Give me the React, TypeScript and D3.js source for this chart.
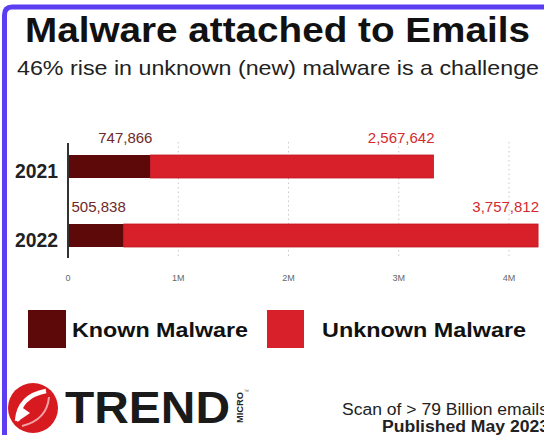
import * as d3 from 'd3'

const years = ['2021', '2022']
const knownValues = [747866, 505838]
const unknownValues = [2567642, 3757812]
const xTicks = [0, 1000000, 2000000, 3000000, 4000000]
const seriesNames = ['Known Malware', 'Unknown Malware']

const KNOWN = '#5e0909'
const UNKNOWN = '#d8202a'
const PURPLE = '#5b3ef2'

const fmtTick = (v: number) => (v === 0 ? '0' : `${v / 1000000}M`)
const fmtVal = d3.format(',')

const App = () => {
  const x = d3.scaleLinear().domain([0, 4000000]).range([68, 509])
  const y = d3.scalePoint<string>().domain(years).range([166.5, 235.5])
  const barH = 23

  return (
    <svg
      width={544}
      height={435}
      style={{ position: 'absolute', left: 0, top: 0, background: '#fff' }}
      fontFamily="'Liberation Sans', Arial, sans-serif"
    >
      <rect width={544} height={435} fill="#fff" />
      {/* frame */}
      <path
        d="M4.5,435 L4.5,15 Q4.5,7 12,7 L544,7"
        fill="none"
        stroke={PURPLE}
        strokeWidth={5}
      />

      <text x={25} y={42} fontSize={35} fontWeight="bold" fill="#111" textLength={505} lengthAdjust="spacingAndGlyphs">
        Malware attached to Emails
      </text>
      <text x={17} y={75} fontSize={21} fill="#222" textLength={522} lengthAdjust="spacingAndGlyphs">
        46% rise in unknown (new) malware is a challenge
      </text>

      {/* grid */}
      {xTicks.slice(1).map((t) => (
        <line
          key={t}
          x1={x(t)}
          x2={x(t)}
          y1={142}
          y2={258}
          stroke="#c8c8c8"
          strokeWidth={1}
          strokeDasharray="1.5,3"
        />
      ))}
      {xTicks.map((t) => (
        <text key={t} x={x(t)} y={281} fontSize={9} fill="#666" textAnchor="middle">
          {fmtTick(t)}
        </text>
      ))}

      {/* bars */}
      {years.map((yr, i) => {
        const cy = y(yr) as number
        const k = knownValues[i]
        const u = unknownValues[i]
        return (
          <g key={yr}>
            <rect x={x(0)} y={cy - barH / 2} width={x(k) - x(0)} height={barH} fill={KNOWN} />
            <rect x={x(k)} y={cy - barH / 2} width={x(k + u) - x(k)} height={barH} fill={UNKNOWN} stroke="#c01820" strokeWidth={0.8} />
            <text x={x(k) + 2} y={cy - barH / 2 - 12} fontSize={15} fill="#6e2a2a" textAnchor="end">
              {fmtVal(k)}
            </text>
            <text x={x(k + u) + 1} y={cy - barH / 2 - 12} fontSize={15} fill="#d42a2e" textAnchor="end">
              {fmtVal(u)}
            </text>
            <text x={58} y={cy + 11.5} fontSize={20} fontWeight="bold" fill="#222" textAnchor="end" textLength={43} lengthAdjust="spacingAndGlyphs">
              {yr}
            </text>
          </g>
        )
      })}
      <line x1={x(0)} x2={x(0)} y1={143} y2={258} stroke="#333" strokeWidth={2} />

      {/* legend */}
      <rect x={28} y={310} width={38} height={38} fill={KNOWN} />
      <text x={72} y={337} fontSize={21} fontWeight="bold" fill="#111" textLength={176} lengthAdjust="spacingAndGlyphs">
        {seriesNames[0]}
      </text>
      <rect x={267} y={310} width={37} height={38} fill={UNKNOWN} />
      <text x={322} y={337} fontSize={21} fontWeight="bold" fill="#111" textLength={204} lengthAdjust="spacingAndGlyphs">
        {seriesNames[1]}
      </text>

      {/* logo */}
      <circle cx={33} cy={408} r={25} fill="#d71920" />
      <path d="M17,421 Q19,396 46,391" fill="none" stroke="#fff" strokeWidth={4.5} />
      <path d="M20,406 L17,422 L30,413 Z" fill="#fff" />
      <path d="M49,397 Q47,420 22,426" fill="none" stroke="#fff" strokeWidth={2} opacity={0.6} />
      <text x={65} y={423} fontSize={45} fontWeight="bold" fill="#1a1a1a" textLength={165} lengthAdjust="spacingAndGlyphs">
        TREND
      </text>
      <text transform="translate(243,423) rotate(-90)" fontSize={9} fontWeight="bold" fill="#222" textLength={31} lengthAdjust="spacingAndGlyphs">
        MICRO
      </text>
      <text x={244} y={393} fontSize={5} fill="#555">™</text>

      {/* footer */}
      <text x={342} y={415} fontSize={16} fill="#222" textLength={206} lengthAdjust="spacingAndGlyphs">
        Scan of &gt; 79 Billion emails
      </text>
      <text x={382} y={432} fontSize={16} fontWeight="bold" fill="#222" textLength={167} lengthAdjust="spacingAndGlyphs">
        Published May 2023
      </text>
    </svg>
  )
}

export default App
